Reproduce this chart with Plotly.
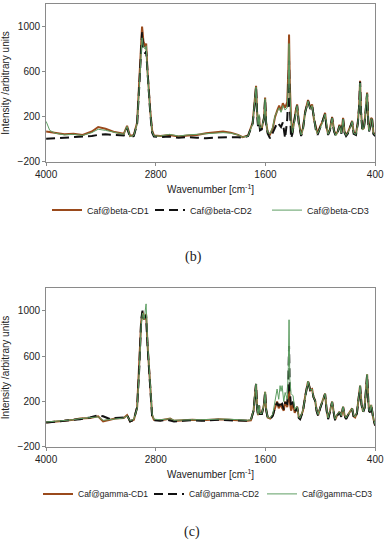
import plotly.graph_objects as go

# ---------- panel (b) ----------
wn_b = [4000, 3960, 3900, 3800, 3700, 3600, 3500, 3430, 3350, 3250, 3150, 3114, 3081, 3040, 3004,
        2980, 2960, 2950, 2935, 2915, 2905, 2890, 2860, 2840, 2820, 2750, 2650, 2550, 2450, 2350,
        2250, 2150, 2064, 1980, 1900, 1850, 1790, 1740, 1715, 1703, 1692, 1681, 1670, 1660, 1640,
        1615, 1604, 1593, 1575, 1550, 1520, 1495, 1470, 1450, 1430, 1410, 1385, 1362, 1350, 1342,
        1334, 1320, 1305, 1290, 1270, 1254, 1235, 1210, 1190, 1165, 1134, 1110, 1090, 1070, 1050,
        1030, 1000, 980, 948, 930, 915, 895, 871, 850, 830, 810, 790, 770, 751, 735,
        718, 700, 674, 652, 635, 610, 590, 575, 565, 555, 540, 525, 510, 500, 488,
        475, 466, 455, 444, 433, 420, 400]
cd1_b = [70, 65, 60, 45, 50, 40, 70, 110, 95, 65, 50, 120, 30, 40, 150,
         500, 900, 1000, 870, 820, 850, 600, 250, 80, 35, 30, 40, 25, 35, 40,
         55, 65, 70, 60, 40, 20, 35, 150, 350, 475, 250, 120, 210, 90, 100,
         200, 370, 150, 60, 45, 100, 200, 260, 300, 250, 320, 280, 330, 600, 930,
         500, 180, 60, 150, 250, 310, 150, 40, 100, 250, 350, 280, 310, 180, 100,
         50, 120, 150, 235, 100, 50, 90, 200, 80, 40, 70, 130, 60, 190, 70,
         40, 60, 110, 165, 60, 50, 150, 300, 520, 250, 90, 100, 200, 330, 415,
         150, 80, 120, 190, 180, 60, 40]
cd2_b = [5, 5, 10, 15, 20, 20, 30, 40, 45, 40, 35, 100, 20, 30, 140,
         480, 880, 950, 800, 760, 780, 560, 230, 60, 25, 20, 25, 15, 20, 15,
         10, 15, 20, 20, 20, 15, 30, 140, 340, 470, 240, 110, 200, 80, 90,
         190, 360, 140, 50, 10, 60, 100, 150, 130, 110, 150, 10, 180, 400, 700,
         300, 10, 50, 140, 240, 300, 140, 30, 90, 240, 340, 270, 300, 170, 90,
         40, 110, 140, 225, 90, 40, 80, 190, 70, 30, 60, 120, 50, 180, 60,
         30, 50, 100, 155, 50, 40, 140, 290, 510, 240, 80, 90, 190, 320, 405,
         140, 70, 110, 180, 170, 50, 30]
cd3_b = [160, 80, 55, 40, 45, 35, 60, 90, 80, 60, 45, 115, 25, 35, 140,
         470, 840, 900, 820, 800, 830, 580, 240, 70, 30, 30, 45, 30, 40, 45,
         50, 55, 60, 55, 40, 20, 30, 140, 340, 465, 240, 130, 220, 100, 110,
         190, 360, 145, 60, 50, 110, 210, 250, 280, 240, 300, 260, 280, 500, 850,
         450, 170, 60, 140, 240, 300, 140, 40, 90, 240, 340, 270, 300, 170, 90,
         50, 110, 140, 225, 95, 45, 85, 190, 75, 35, 65, 120, 55, 180, 65,
         35, 55, 100, 160, 55, 45, 140, 290, 500, 240, 85, 95, 190, 320, 405,
         140, 75, 115, 185, 175, 55, 40]

# ---------- panel (c) ----------
wn_c = [4000, 3900, 3800, 3700, 3628, 3520, 3431, 3376, 3300, 3245, 3150, 3114, 3081, 3040, 3004,
        2980, 2960, 2945, 2935, 2928, 2915, 2906, 2890, 2860, 2840, 2820, 2750, 2680, 2643, 2600,
        2500, 2400, 2300, 2200, 2100, 2000, 1900, 1800, 1760, 1730, 1710, 1703, 1692, 1681, 1670,
        1660, 1640, 1615, 1604, 1593, 1575, 1549, 1520, 1495, 1473, 1455, 1440, 1430, 1418, 1400,
        1385, 1362, 1350, 1342, 1334, 1320, 1298, 1280, 1254, 1235, 1221, 1190, 1165, 1134, 1110,
        1090, 1075, 1057, 1040, 1024, 1000, 980, 948, 930, 915, 893, 871, 850, 838, 816,
        790, 770, 751, 735, 718, 700, 674, 652, 635, 619, 600, 580, 565, 550, 532,
        515, 500, 488, 475, 466, 455, 444, 433, 420, 400]
cd1_c = [15, 20, 30, 40, 50, 55, 70, 25, 40, 50, 55, 80, 25, 40, 150,
         500, 900, 990, 950, 920, 950, 970, 700, 300, 80, 40, 35, 45, 50, 30,
         35, 40, 35, 40, 45, 40, 35, 30, 35, 120, 300, 355, 150, 80, 165,
         90, 90, 180, 285, 130, 60, 50, 80, 150, 200, 140, 180, 160, 140, 120,
         200, 150, 250, 350, 200, 120, 180, 100, 155, 60, 50, 120, 250, 380, 300,
         310, 240, 210, 120, 80, 150, 200, 270, 120, 50, 120, 200, 90, 40, 80,
         110, 70, 155, 80, 50, 80, 110, 140, 70, 60, 100, 220, 340, 180, 110,
         150, 300, 440, 200, 120, 110, 170, 120, 50, -10]
cd2_c = [15, 20, 30, 40, 45, 60, 80, 70, 45, 55, 60, 80, 25, 40, 150,
         500, 920, 1000, 960, 930, 950, 960, 690, 290, 70, 35, 30, 40, 35, 25,
         30, 35, 30, 35, 40, 35, 30, 30, 35, 120, 300, 355, 145, 80, 165,
         90, 90, 180, 285, 130, 55, 45, 75, 150, 190, 160, 200, 170, 180, 130,
         190, 180, 400, 690, 300, 150, 200, 110, 150, 55, 45, 115, 245, 375, 300,
         305, 240, 205, 115, 75, 145, 195, 265, 115, 45, 115, 195, 85, 35, 75,
         105, 65, 150, 75, 45, 75, 105, 135, 65, 55, 95, 215, 335, 175, 105,
         145, 295, 435, 195, 115, 105, 165, 115, 45, -10]
cd3_c = [20, 25, 35, 40, 50, 55, 65, 35, 40, 50, 55, 75, 30, 45, 140,
         480, 880, 980, 960, 920, 1000, 1060, 720, 320, 90, 45, 40, 45, 50, 35,
         40, 40, 40, 45, 45, 45, 40, 35, 40, 125, 300, 355, 150, 85, 165,
         95, 95, 180, 285, 130, 60, 55, 90, 200, 310, 220, 340, 290, 340, 200,
         280, 220, 500, 920, 400, 270, 250, 130, 155, 60, 55, 125, 255, 380, 300,
         310, 240, 210, 120, 85, 150, 200, 270, 125, 55, 120, 200, 95, 45, 85,
         110, 75, 155, 85, 55, 80, 110, 140, 75, 65, 105, 220, 340, 180, 110,
         150, 300, 440, 200, 120, 115, 170, 125, 55, -5]

names_b = ["Caf@beta-CD1", "Caf@beta-CD2", "Caf@beta-CD3"]
names_c = ["Caf@gamma-CD1", "Caf@gamma-CD2", "Caf@gamma-CD3"]
x_ticks = [4000, 2800, 1600, 400]
y_ticks = [-200, 200, 600, 1000]

styles = [dict(color="#9a4a1c", width=2),
          dict(color="#111111", width=2, dash="9px,5px"),
          dict(color="#5e9e63", width=1)]
leg_widths_b = [58, 72, 60]
leg_widths_c = [66, 68, 66]

fig = go.Figure()
for ys, nm, st, lw in zip([cd1_b, cd2_b, cd3_b], names_b, styles, leg_widths_b):
    fig.add_trace(go.Scatter(x=wn_b, y=ys, name=nm, mode="lines", line=st,
                             xaxis="x", yaxis="y", legend="legend", legendwidth=lw))
for ys, nm, st, lw in zip([cd1_c, cd2_c, cd3_c], names_c, styles, leg_widths_c):
    fig.add_trace(go.Scatter(x=wn_c, y=ys, name=nm, mode="lines", line=st,
                             xaxis="x2", yaxis="y2", legend="legend2", legendwidth=lw))

font = dict(family="Liberation Sans, Arial", size=10, color="#222")
xcommon = dict(range=[4000, 400], tickvals=x_ticks, showgrid=False, zeroline=False,
               showline=True, linecolor="#8a8a8a", mirror=True, ticks="outside",
               ticklen=3, tickcolor="#8a8a8a", tickfont=font, automargin=False,
               title=dict(text="Wavenumber [cm<sup>-1</sup>]", font=font, standoff=7))
ycommon = dict(range=[-200, 1200], tickvals=y_ticks, showgrid=False, zeroline=False,
               showline=True, linecolor="#8a8a8a", mirror=True, ticks="outside",
               ticklen=3, tickcolor="#8a8a8a", tickfont=font, automargin=False,
               title=dict(text="Intensity /arbitrary units", font=font, standoff=6))

legfont = dict(family="Liberation Sans, Arial", size=9, color="#222")
legfont2 = dict(family="Liberation Sans, Arial", size=8.5, color="#222")
fig.update_layout(
    width=384, height=550, margin=dict(l=0, r=0, t=0, b=0),
    paper_bgcolor="white", plot_bgcolor="white",
    xaxis=dict(domain=[0.12, 0.977], anchor="y", **xcommon),
    yaxis=dict(domain=[0.7055, 0.9927], anchor="x", **ycommon),
    xaxis2=dict(domain=[0.12, 0.977], anchor="y2", **xcommon),
    yaxis2=dict(domain=[0.1873, 0.4764], anchor="x2", **ycommon),
    legend=dict(orientation="h", x=47 / 384, xanchor="left", y=0.618, yanchor="middle",
                font=legfont, bgcolor="rgba(0,0,0,0)", itemwidth=30, tracegroupgap=0),
    legend2=dict(orientation="h", x=38 / 384, xanchor="left", y=0.102, yanchor="middle",
                 font=legfont2, bgcolor="rgba(0,0,0,0)", itemwidth=30, tracegroupgap=0),
    annotations=[
        dict(text="(b)", x=0.505, y=(550 - 257) / 550, xref="paper", yref="paper",
             showarrow=False, font=dict(family="Liberation Serif, DejaVu Serif", size=14, color="#222")),
        dict(text="(c)", x=0.5, y=(550 - 542) / 550, xref="paper", yref="paper",
             showarrow=False, font=dict(family="Liberation Serif, DejaVu Serif", size=14, color="#222")),
    ],
)

fig.write_html("out.html", config={"displayModeBar": False},
               post_script="document.body.style.margin='0';")
